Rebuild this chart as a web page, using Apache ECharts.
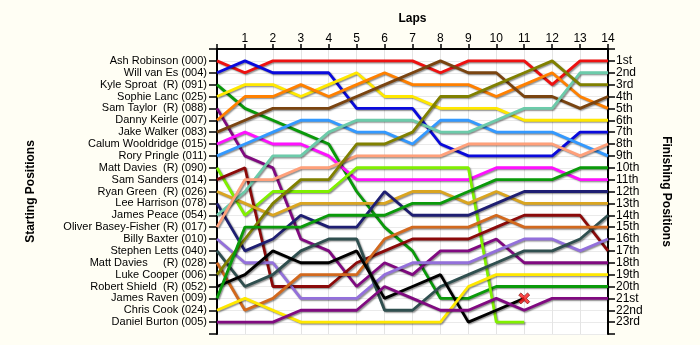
<!DOCTYPE html>
<html>
<head>
<meta charset="utf-8">
<script src="https://cdn.jsdelivr.net/npm/echarts@6/dist/echarts.min.js"></script>
<style>
html,body{margin:0;padding:0;background:#FFFEF4;}
#chart{width:700px;height:345px;}
</style>
</head>
<body>
<div id="chart"></div>
<script>
// ---- Data ----
const lapTicks = [0,1,2,3,4,5,6,7,8,9,10,11,12,13,14];
const starters = [
  'Ash Robinson (000)','Will van Es (004)','Kyle Sproat  (R) (091)','Sophie Lanc (025)',
  'Sam Taylor  (R) (088)','Danny Keirle (007)','Jake Walker (083)','Calum Wooldridge (015)',
  'Rory Pringle (011)','Matt Davies  (R) (090)','Sam Sanders (014)','Ryan Green  (R) (026)',
  'Lee Harrison (078)','James Peace (054)','Oliver Basey-Fisher (R) (017)','Billy Baxter (010)',
  'Stephen Letts (040)','Matt Davies     (R) (028)','Luke Cooper (006)','Robert Shield  (R) (052)',
  'James Raven (009)','Chris Cook (024)','Daniel Burton (005)'
];
const finishLabels = ['1st','2nd','3rd','4th','5th','6th','7th','8th','9th','10th','11th','12th',
  '13th','14th','15th','16th','17th','18th','19th','20th','21st','22nd','23rd'];

// positions per lap (lap 0 .. last lap completed)
const ashRobinson      = [1,2,1,1,1,1,1,1,2,1,1,1,3,1,1];
const willVanEs        = [2,1,2,2,2,5,5,5,8,9,9,9,9,7,7];
const kyleSproat       = [3,5,6,7,8,12,15,17,21,21,20,20,20,20,20];
const sophieLanc       = [4,3,3,4,3,2,4,4,5,5,5,6,6,6,6];
const samTaylor        = [5,9,10,16,17,20,18,19,17,17,16,18,18,18,18];
const dannyKeirle      = [6,4,4,3,4,3,2,3,3,3,4,3,2,4,5];
const jakeWalker       = [7,6,5,5,5,4,3,2,1,2,2,4,4,5,4];
const calumWooldridge  = [8,7,8,8,9,11,11,11,11,11,10,10,10,11,11];
const roryPringle      = [9,8,7,6,6,7,7,8,6,6,7,7,7,8,9];
const mattDavies090    = [10,14,12,12,12,10,10,10,10,10,23,23];
const samSanders       = [11,10,20,20,20,18,17,16,16,16,15,14,14,14,17];
const ryanGreen        = [12,13,14,13,13,13,13,12,12,13,12,13,13,13,13];
const leeHarrison      = [13,17,16,14,15,15,12,14,14,14,13,12,12,12,12];
const jamesPeace       = [14,12,9,9,7,6,6,6,7,7,6,5,5,2,2];
const oliverBaseyFisher= [15,11,11,10,10,9,9,9,9,8,8,8,8,9,8];
const billyBaxter      = [16,18,18,21,21,21,19,18,18,18,17,16,16,17,16];
const stephenLetts     = [17,20,19,17,16,16,22,22,20,19,18,17,17,16,14];
const mattDavies028    = [18,22,21,19,19,19,16,15,15,15,14,15,15,15,15];
const lukeCooper       = [19,16,13,11,11,8,8,7,4,4,3,2,1,3,3];
const robertShield     = [20,19,17,18,18,17,21,20,19,23,22,21];
const jamesRaven       = [21,15,15,15,14,14,14,13,13,12,11,11,11,10,10];
const chrisCook        = [22,21,22,23,23,23,23,23,23,20,19,19,19,19,19];
const danielBurton     = [23,23,23,22,22,22,20,21,22,22,21,22,21,21,21];

const driverSeries = [
  ['Ash Robinson', ashRobinson, '#EE1111'],
  ['Will van Es', willVanEs, '#0A0ADC'],
  ['Kyle Sproat', kyleSproat, '#0A9A0A'],
  ['Sophie Lanc', sophieLanc, '#FFE800'],
  ['Sam Taylor', samTaylor, '#800A80'],
  ['Danny Keirle', dannyKeirle, '#FF8000'],
  ['Jake Walker', jakeWalker, '#7A4410'],
  ['Calum Wooldridge', calumWooldridge, '#FF10FF'],
  ['Rory Pringle', roryPringle, '#3399FF'],
  ['Matt Davies 090', mattDavies090, '#80F000'],
  ['Sam Sanders', samSanders, '#8B0A0A'],
  ['Ryan Green', ryanGreen, '#DAA520'],
  ['Lee Harrison', leeHarrison, '#1E1E72'],
  ['James Peace', jamesPeace, '#6CCBAA'],
  ['Oliver Basey-Fisher', oliverBaseyFisher, '#FFA07A'],
  ['Billy Baxter', billyBaxter, '#9370DB'],
  ['Stephen Letts', stephenLetts, '#2F4F4F'],
  ['Matt Davies 028', mattDavies028, '#D2691E'],
  ['Luke Cooper', lukeCooper, '#808000'],
  ['Robert Shield', robertShield, '#000000'],
  ['James Raven', jamesRaven, '#0A9A0A'],
  ['Chris Cook', chrisCook, '#FFE800'],
  ['Daniel Burton', danielBurton, '#800A80']
];

const chart = echarts.init(document.getElementById('chart'), null, {renderer:'canvas'});
const font = 'Liberation Sans';

const series = driverSeries.map(([name, arr, color]) => ({
  name, type:'line', showSymbol:false, symbol:'none', smooth:false,
  data: arr.map((p,i)=>[lapTicks[i], p]),
  lineStyle:{color, width:2.8, shadowColor:'rgba(0,0,0,0.45)', shadowBlur:1.5, shadowOffsetX:1.2, shadowOffsetY:1.2},
  itemStyle:{color}, animation:false, silent:true
}));
// retirement mark at Robert Shield's last lap
const rsLast = robertShield.length - 1;
series.push({
  type:'scatter', data:[[lapTicks[rsLast], robertShield[rsLast]]],
  symbol:'path://M2,0 L5,3 L8,0 L10,2 L7,5 L10,8 L8,10 L5,7 L2,10 L0,8 L3,5 L0,2 Z',
  symbolSize:11, z:10,
  itemStyle:{color:'#FF1A1A', borderColor:'#700000', borderWidth:0.8}, animation:false
});

chart.setOption({
  backgroundColor:'#FFFEF4',
  animation:false,
  textStyle:{fontFamily:font},
  grid:{left:217, right:92, top:49, bottom:11, show:true, backgroundColor:'#FFFFFF', borderWidth:0},
  xAxis:{
    type:'value', position:'top', min:0, max:14, interval:1,
    name:'Laps', nameLocation:'middle', nameGap:24,
    nameTextStyle:{fontWeight:'bold', fontSize:12, color:'#000', fontFamily:font},
    axisLine:{lineStyle:{color:'#000', width:2}},
    axisTick:{show:true, length:5, lineStyle:{color:'#000', width:1.5}},
    axisLabel:{formatter:v=> v===0?'':String(v), color:'#000', fontSize:12, margin:4, fontFamily:font},
    splitLine:{show:true, lineStyle:{color:'#E4E4E4', width:1}}
  },
  yAxis:[{
    type:'value', inverse:true, min:0, max:24, interval:1, position:'left',
    name:'Starting Positions', nameLocation:'middle', nameRotate:90, nameGap:180,
    nameTextStyle:{fontWeight:'bold', fontSize:12, color:'#000', fontFamily:font},
    axisLine:{show:true, lineStyle:{color:'#000', width:2}},
    axisTick:{show:true, length:8, lineStyle:{color:'#000', width:1.5}},
    axisLabel:{formatter:v=> starters[v-1]||'', color:'#000', fontSize:11, margin:10, fontFamily:font},
    splitLine:{show:true, lineStyle:{color:'#EAEAEA', width:1}}
  },{
    type:'value', inverse:true, min:0, max:24, interval:1, position:'right',
    name:'Finishing Positions', nameLocation:'middle', nameRotate:-90, nameGap:52,
    nameTextStyle:{fontWeight:'bold', fontSize:12, color:'#000', fontFamily:font},
    axisLine:{show:true, lineStyle:{color:'#000', width:2}},
    axisTick:{show:true, length:7, lineStyle:{color:'#000', width:1.5}},
    axisLabel:{formatter:v=> finishLabels[v-1]||'', color:'#000', fontSize:12, margin:8, fontFamily:font},
    splitLine:{show:false}
  }],
  series
});
</script>
</body>
</html>
